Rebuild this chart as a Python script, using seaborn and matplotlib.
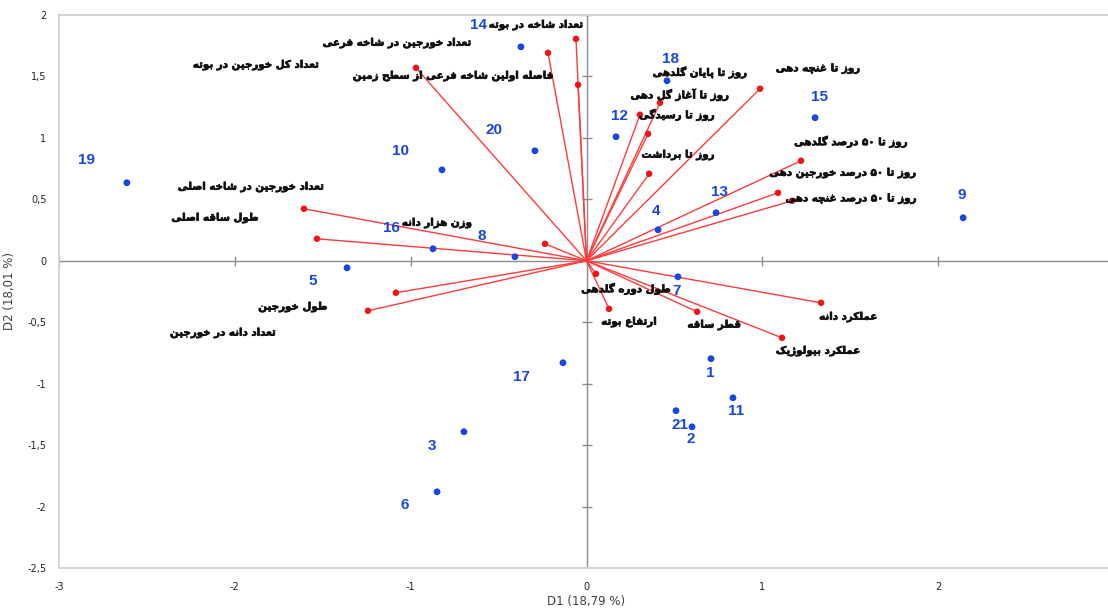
import re
import numpy as np
import pandas as pd
import matplotlib
matplotlib.use("Agg")
import matplotlib.pyplot as plt
import matplotlib.patheffects as pe
import seaborn as sns

# ---------------- data ----------------
genotypes = [str(i) for i in range(1, 22)]
geno_d1 = [0.708, 0.600, -0.697, 0.407, -1.362, -0.850, 0.520, -0.407, 2.142, -0.822,
           0.833, 0.168, 0.737, -0.373, 1.300, -0.873, -0.134, 0.458, -2.614, -0.293, 0.509]
geno_d2 = [-0.797, -1.351, -1.391, 0.252, -0.057, -1.880, -0.130, 0.033, 0.350, 0.740,
           -1.115, 1.009, 0.391, 1.741, 1.164, 0.098, -0.830, 1.465, 0.635, 0.895, -1.220]

variables = [
    "تعداد شاخه در بوته",
    "تعداد خورجین در شاخه فرعی",
    "تعداد کل خورجین در بوته",
    "فاصله اولین شاخه فرعی از سطح زمین",
    "روز تا غنچه دهی",
    "روز تا پایان گلدهی",
    "روز تا آغاز گل دهی",
    "روز تا رسیدگی",
    "روز تا برداشت",
    "روز تا ۵۰ درصد گلدهی",
    "روز تا ۵۰ درصد خورجین دهی",
    "روز تا ۵۰ درصد غنچه دهی",
    "تعداد خورجین در شاخه اصلی",
    "طول ساقه اصلی",
    "وزن هزار دانه",
    "طول خورجین",
    "تعداد دانه در خورجین",
    "طول دوره گلدهی",
    "ارتفاع بوته",
    "قطر ساقه",
    "عملکرد دانه",
    "عملکرد بیولوژیک",
]
var_d1 = [-0.060, -0.219, -0.970, -0.048, 0.987, 0.418, 0.304, 0.350, 0.356, 1.220, 1.089,
          1.169, -1.607, -1.533, -0.236, -1.243, -1.084, 0.054, 0.128, 0.629, 1.334, 1.112]
var_d2 = [1.806, 1.692, 1.570, 1.432, 1.400, 1.286, 1.188, 1.033, 0.708, 0.814, 0.553,
          0.488, 0.423, 0.179, 0.138, -0.407, -0.260, -0.106, -0.391, -0.415, -0.342, -0.627]

x_ticks = [-3, -2, -1, 0, 1, 2]
y_ticks = [-2.5, -2, -1.5, -1, -0.5, 0, 0.5, 1, 1.5, 2]
x_title = "D1 (18,79 %)"
y_title = "D2 (18,01 %)"

# ---------------- layout (label offsets in pixels) ----------------
geno_offsets = [(-1, -14), (-1, -12), (-32, -14), (-2, 19), (-34, -13), (-32, -13), (-1, -14),
                (-33, 21), (-1, 23), (-41, 19), (3, -13), (3, 21), (3, 21), (-42, 22), (4, 21),
                (-42, 21), (-42, -14), (3, 22), (-40, 23), (-41, 21), (4, -14)]
var_offsets = [(-40, 14), (-151, 10), (-160, 3), (-125, 9), (58, 20), (40, 30), (40, 20),
               (29, 19), (29, 19), (50, 19), (65, 20), (59, 2), (-53, 22), (-102, 21),
               (-108, 21), (-75, 4), (-173, -40), (30, -15), (20, -13), (17, -13), (27, -14),
               (36, -13)]

# ---------------- Persian shaping (contextual forms + RTL order) ----------------
FORMS = {
    "\u0627": ("\uFE8D", "\uFE8E", None, None),
    "\u0622": ("\uFE81", "\uFE82", None, None),
    "\u0628": ("\uFE8F", "\uFE90", "\uFE91", "\uFE92"),
    "\u067E": ("\uFB56", "\uFB57", "\uFB58", "\uFB59"),
    "\u062A": ("\uFE95", "\uFE96", "\uFE97", "\uFE98"),
    "\u062B": ("\uFE99", "\uFE9A", "\uFE9B", "\uFE9C"),
    "\u062C": ("\uFE9D", "\uFE9E", "\uFE9F", "\uFEA0"),
    "\u0686": ("\uFB7A", "\uFB7B", "\uFB7C", "\uFB7D"),
    "\u062D": ("\uFEA1", "\uFEA2", "\uFEA3", "\uFEA4"),
    "\u062E": ("\uFEA5", "\uFEA6", "\uFEA7", "\uFEA8"),
    "\u062F": ("\uFEA9", "\uFEAA", None, None),
    "\u0630": ("\uFEAB", "\uFEAC", None, None),
    "\u0631": ("\uFEAD", "\uFEAE", None, None),
    "\u0632": ("\uFEAF", "\uFEB0", None, None),
    "\u0698": ("\uFB8A", "\uFB8B", None, None),
    "\u0633": ("\uFEB1", "\uFEB2", "\uFEB3", "\uFEB4"),
    "\u0634": ("\uFEB5", "\uFEB6", "\uFEB7", "\uFEB8"),
    "\u0635": ("\uFEB9", "\uFEBA", "\uFEBB", "\uFEBC"),
    "\u0636": ("\uFEBD", "\uFEBE", "\uFEBF", "\uFEC0"),
    "\u0637": ("\uFEC1", "\uFEC2", "\uFEC3", "\uFEC4"),
    "\u0638": ("\uFEC5", "\uFEC6", "\uFEC7", "\uFEC8"),
    "\u0639": ("\uFEC9", "\uFECA", "\uFECB", "\uFECC"),
    "\u063A": ("\uFECD", "\uFECE", "\uFECF", "\uFED0"),
    "\u0641": ("\uFED1", "\uFED2", "\uFED3", "\uFED4"),
    "\u0642": ("\uFED5", "\uFED6", "\uFED7", "\uFED8"),
    "\u06A9": ("\uFB8E", "\uFB8F", "\uFB90", "\uFB91"),
    "\u06AF": ("\uFB92", "\uFB93", "\uFB94", "\uFB95"),
    "\u0644": ("\uFEDD", "\uFEDE", "\uFEDF", "\uFEE0"),
    "\u0645": ("\uFEE1", "\uFEE2", "\uFEE3", "\uFEE4"),
    "\u0646": ("\uFEE5", "\uFEE6", "\uFEE7", "\uFEE8"),
    "\u0648": ("\uFEED", "\uFEEE", None, None),
    "\u0647": ("\uFEE9", "\uFEEA", "\uFEEB", "\uFEEC"),
    "\u06CC": ("\uFBFC", "\uFBFD", "\uFBFE", "\uFBFF"),
}


def shape_fa(text):
    out = []
    n = len(text)
    for i, c in enumerate(text):
        if c not in FORMS:
            out.append(c)
            continue
        prev = text[i - 1] if i > 0 else None
        nxt = text[i + 1] if i + 1 < n else None
        jp = prev in FORMS and FORMS[prev][2] is not None
        jn = nxt in FORMS and FORMS[c][2] is not None
        iso, fin, ini, med = FORMS[c]
        if jp and jn:
            out.append(med)
        elif jp:
            out.append(fin)
        elif jn:
            out.append(ini)
        else:
            out.append(iso)
    vis = "".join(out)[::-1]
    vis = re.sub("[\u06F0-\u06F9]+", lambda m: m.group(0)[::-1], vis)
    return vis


# ---------------- figure ----------------
sns.set_theme(style="white")
plt.rcParams["font.family"] = ["DejaVu Sans"]

W, H = 1108, 610
fig = plt.figure(figsize=(W / 100, H / 100), dpi=100)
ax = fig.add_axes([59 / W, 42 / H, (1114 - 59) / W, (568 - 15) / H])
ax.set_xlim(-3, 3)
ax.set_ylim(-2.5, 2)

# zero lines with cross ticks
ax.axhline(0, color="#8c8c8c", lw=1.0, zorder=1)
ax.axvline(0, color="#8c8c8c", lw=1.0, zorder=1)
ax.plot([0] * len(y_ticks), y_ticks, ls="none", marker="_", ms=7, mew=1.0, color="#8c8c8c", zorder=1)
ax.plot(x_ticks, [0] * len(x_ticks), ls="none", marker="|", ms=7, mew=1.0, color="#8c8c8c", zorder=1)

gdf = pd.DataFrame({"D1": geno_d1, "D2": geno_d2, "label": genotypes})
vdf = pd.DataFrame({"D1": var_d1, "D2": var_d2, "label": variables})

# vectors
for x, y in zip(vdf["D1"], vdf["D2"]):
    ax.plot([0, x], [0, y], color="#ff3b3b", lw=1.0, zorder=2)

sns.scatterplot(data=vdf, x="D1", y="D2", color="#f01414", s=22, edgecolor="none", ax=ax, zorder=3)
sns.scatterplot(data=gdf, x="D1", y="D2", color="#1746e0", s=24, edgecolor="none", ax=ax, zorder=3)

blue = "#1746e0"
for (x, y, lab), (dx, dy) in zip(gdf[["D1", "D2", "label"]].values, geno_offsets):
    ax.annotate(lab, (x, y), xytext=(dx, dy), textcoords="offset pixels", ha="center", va="center",
                color=blue, fontsize=11, fontweight="bold", family=["Liberation Sans", "DejaVu Sans"],
                zorder=4)

bold_fx = [pe.withStroke(linewidth=0.5, foreground="#111111")]
for (x, y, lab), (dx, dy) in zip(vdf[["D1", "D2", "label"]].values, var_offsets):
    ax.annotate(shape_fa(lab), (x, y), xytext=(dx, dy), textcoords="offset pixels", ha="center",
                va="center", color="#111111", fontsize=7.4, fontweight="bold",
                family=["DejaVu Sans"], zorder=4, path_effects=bold_fx)

# axes styling
for s in ax.spines.values():
    s.set_color("#d4d4d4")
    s.set_linewidth(1.4)
ax.spines["right"].set_visible(False)
ax.set_xticks(x_ticks)
ax.set_yticks(y_ticks)
ax.set_xticklabels([f"{t:g}".replace(".", ",") for t in x_ticks])
ax.set_yticklabels([f"{t:g}".replace(".", ",") for t in y_ticks])
ax.tick_params(axis="both", length=0, labelsize=7, colors="#222222")
ax.tick_params(axis="y", pad=9)
ax.tick_params(axis="x", pad=10)
ax.set_xlabel(x_title, fontsize=8.5, color="#404040", labelpad=2)
ax.set_ylabel(y_title, fontsize=8.5, color="#404040", labelpad=8)
ax.grid(False)

fig.savefig("out.png", dpi=100)
